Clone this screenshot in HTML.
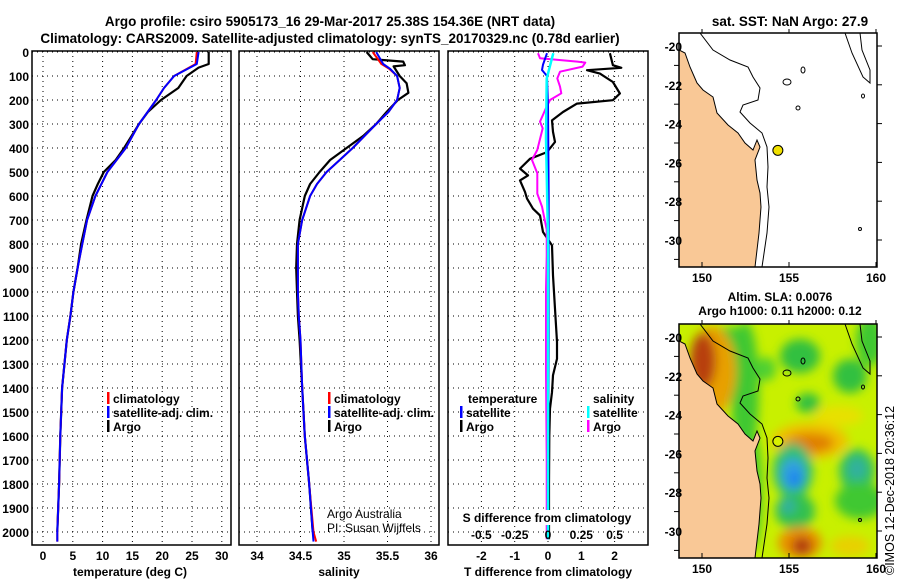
<!DOCTYPE html>
<html><head><meta charset="utf-8"><style>
html,body{margin:0;padding:0;background:#fff;}
svg{display:block;font-family:"Liberation Sans",Arial,sans-serif;}
.b{font-weight:bold;font-size:12px;}
.t{font-weight:bold;font-size:13.5px;}
</style></head><body>
<svg id="chart" width="900" height="580" viewBox="0 0 900 580" xmlns="http://www.w3.org/2000/svg">
<rect width="900" height="580" fill="#fff"/>
<text class="t" x="330" y="26" text-anchor="middle">Argo profile: csiro 5905173_16 29-Mar-2017 25.38S 154.36E (NRT data)</text>
<text class="t" x="330" y="43" text-anchor="middle">Climatology: CARS2009. Satellite-adjusted climatology: synTS_20170329.nc (0.78d earlier)</text>
<g id="plots"></g>
<text class="t" x="790" y="26" text-anchor="middle">sat. SST: NaN Argo: 27.9</text>
<text class="b" x="780" y="301" text-anchor="middle">Altim. SLA: 0.0076</text>
<text class="b" x="780" y="315" text-anchor="middle">Argo h1000: 0.11 h2000: 0.12</text>
<text x="894" y="575" transform="rotate(-90 894 575)" style="font-size:12.5px">©IMOS 12-Dec-2018 20:36:12</text>
</svg>
<script>
// ---- data ----
const depthTicks=[0,100,200,300,400,500,600,700,800,900,1000,1100,1200,1300,1400,1500,1600,1700,1800,1900,2000];
const tempTicks=[0,5,10,15,20,25,30];
const salTicks=[34,34.5,35,35.5,36];
const salTickLabels=["34","34.5","35","35.5","36"];
const dTTicks=[-2,-1,0,1,2];
const dSTicks=[-0.5,-0.25,0,0.25,0.5];
const dSTickLabels=["-0.5","-0.25","0","0.25","0.5"];

const argoTDepth=[0,50,65,100,150,200,250,300,400,450,500,550,600,700,800,900,1000,1100,1200,1400,1600,1800,2000];
const argoT=[27.8,27.8,26.1,24.1,22.7,19.8,17.6,16.1,13.6,12.2,10.2,9.2,8.3,7.3,6.4,5.8,5.1,4.6,4.0,3.2,2.9,2.7,2.4];
const climTDepth=[0,50,100,150,200,300,400,500,600,700,800,900,1000,1100,1200,1400,1600,1800,2000,2040];
const climT=[25.8,25.6,22.0,20.3,19.0,16.1,13.9,10.8,8.8,7.4,6.6,5.8,5.1,4.6,4.0,3.2,2.9,2.7,2.4,2.4];
const satT=[26.1,25.8,22.0,20.3,19.0,16.1,13.9,10.8,8.8,7.4,6.6,5.8,5.1,4.6,4.0,3.2,2.9,2.7,2.4,2.4];

const argoSDepth=[0,30,40,55,60,100,130,170,200,250,300,350,400,450,500,550,600,650,700,800,900,1000,1100,1200,1400,1600,1800,2000];
const argoS=[35.26,35.33,35.68,35.70,35.57,35.64,35.72,35.74,35.62,35.49,35.37,35.22,35.03,34.84,34.72,34.61,34.55,34.52,34.49,34.46,34.45,34.46,34.47,34.49,34.52,34.55,34.60,34.64];
const climSDepth=[0,50,70,100,150,200,250,300,400,450,500,550,600,700,800,900,1000,1100,1200,1400,1600,1800,2000,2040];
const climS=[35.33,35.43,35.52,35.61,35.64,35.61,35.51,35.37,35.10,34.95,34.80,34.69,34.61,34.52,34.47,34.47,34.47,34.48,34.50,34.52,34.55,34.60,34.65,34.68];
const satS=[35.37,35.45,35.53,35.61,35.64,35.61,35.51,35.37,35.10,34.95,34.80,34.69,34.61,34.52,34.47,34.47,34.47,34.48,34.50,34.52,34.55,34.60,34.64,34.65];

const dTArgoDepth=[5,55,66,76,90,125,173,201,215,250,285,333,375,417,445,486,514,535,583,611,653,681,750,806,931,1070,1208,1278,1347,1417,1486,1600,1800,2030];
const dTArgo=[1.86,1.95,2.2,1.17,1.56,1.95,2.16,1.95,0.87,0.45,0.12,0.15,0.21,-0.03,-0.54,-0.84,-0.6,-0.84,-0.69,-0.63,-0.45,-0.24,-0.15,0.12,0.15,0.21,0.27,0.27,0.15,0.12,0.06,0.04,0.03,0.03];
const dSArgoDepth=[5,26,40,44,61,82,110,144,172,200,240,290,318,408,450,505,590,644,740,850,990,1337,1700,2030];
const dSArgo=[-0.075,-0.06,0.22,0.28,0.26,0.09,0.07,0.09,0.1,0.015,-0.02,-0.06,-0.04,-0.08,-0.12,-0.08,-0.08,-0.045,-0.01,-0.01,-0.015,-0.015,-0.01,-0.01];
const dTSatDepth=[5,53,75,100,225,600,1200,2030];
const dTSat=[-0.03,-0.15,-0.18,-0.03,0,0.02,0.02,0.0];
const dSSatDepth=[5,111,360,778,1200,2030];
const dSSat=[0.04,-0.01,-0.015,0,0,0];

const lonTicks=[150,155,160];
const latTicks=[-20,-22,-24,-26,-28,-30];
const argoLon=154.36, argoLat=-25.38;

// ---- scales ----
const NS="http://www.w3.org/2000/svg";
const yD=d=>52+0.24*d;
const xT=t=>43+5.96*t;
const xS=s=>257+87*(s-34);
const xDT=v=>548+33.3*v;
const xDS=v=>548+133.2*v;
const mapX=lon=>702+17.4*(lon-150);
const mapY=lat=>46+19.4*(-20-lat);
const root=document.getElementById('plots');
function el(tag,attrs,parent,txt){const e=document.createElementNS(NS,tag);for(const k in attrs)e.setAttribute(k,attrs[k]);if(txt!==undefined)e.textContent=txt;(parent||root).appendChild(e);return e;}
function line(xs,ds,xf,color,w,name){
  const p=el('polyline',{points:xs.map((v,i)=>xf(v).toFixed(1)+','+yD(ds[i]).toFixed(1)).join(' '),fill:'none',stroke:color,'stroke-width':w,'stroke-linejoin':'round'});
  
  
}
const panels=[{x0:32,x1:231,name:'temperature-panel'},{x0:239,x1:439,name:'salinity-panel'},{x0:448,x1:648,name:'difference-panel'}];
const yTop=52-1, yBot=545;
panels.forEach((p,pi)=>{
  const g=el('g',{});
  
  
  depthTicks.forEach(d=>{
    const l=el('line',{x1:p.x0,x2:p.x1,y1:yD(d),y2:yD(d),stroke:'#000','stroke-width':1,'stroke-dasharray':'1,4'},g);
    
    
  });
  const xs=pi==0?tempTicks.map(xT):pi==1?salTicks.map(xS):dTTicks.map(xDT);
  xs.forEach(x=>{
    const l=el('line',{x1:x,x2:x,y1:yTop,y2:yBot,stroke:'#000','stroke-width':1,'stroke-dasharray':'1,4'},g);
    
    
  });
});
depthTicks.forEach(d=>{
  const t=el('text',{x:29,y:yD(d)+5,'text-anchor':'end',class:'b'},root,String(d));
  
  
});
tempTicks.forEach(v=>{const t=el('text',{x:xT(v),y:560,'text-anchor':'middle',class:'b'},root,String(v));
  
  });
salTicks.forEach((v,i)=>{const t=el('text',{x:xS(v),y:560,'text-anchor':'middle',class:'b'},root,salTickLabels[i]);
  
  });
dTTicks.forEach(v=>{const t=el('text',{x:xDT(v),y:560,'text-anchor':'middle',class:'b'},root,String(v));
  
  });
line(argoT,argoTDepth,xT,'#000',2.2,'argo-temperature-line');
line(climT,climTDepth,xT,'#f00',2,'climatology-temperature-line');
line(satT,climTDepth,xT,'#00f',2,'satellite-temperature-line');
line(argoS,argoSDepth,xS,'#000',2.2,'argo-salinity-line');
line(climS,climSDepth,xS,'#f00',2,'climatology-salinity-line');
line(satS,climSDepth,xS,'#00f',2,'satellite-salinity-line');
line(dTArgo,dTArgoDepth,xDT,'#000',2.2,'argo-t-diff-line');
line(dSArgo,dSArgoDepth,xDS,'#f0f',2,'argo-s-diff-line');
line(dTSat,dTSatDepth,xDT,'#00f',2,'satellite-t-diff-line');
line(dSSat,dSSatDepth,xDS,'#0ff',2.5,'satellite-s-diff-line');
panels.forEach(p=>{const r=el('rect',{x:p.x0,y:yTop,width:p.x1-p.x0,height:yBot-yTop,fill:'none',stroke:'#000','stroke-width':1.5});
  
  });
const sbg=el('rect',{x:456,y:510,width:180,height:15,fill:'#fff'});


const st=el('text',{x:547,y:522,'text-anchor':'middle',class:'b'},root,'S difference from climatology');


dSTicks.forEach((v,i)=>{const t=el('text',{x:xDS(v),y:539,'text-anchor':'middle',class:'b'},root,dSTickLabels[i]);
  
  });
[['temperature (deg C)',130,'temperature-axis-title'],['salinity',339,'salinity-axis-title'],['T difference from climatology',548,'t-diff-axis-title']].forEach(a=>{
  const t=el('text',{x:a[1],y:576,'text-anchor':'middle',class:'b'},root,a[0]);
  
  
});
function legend(x,y,color,label,name){
  const r=el('rect',{x:x,y:y-6,width:2.5,height:12,fill:color});
  
  
  const t=el('text',{x:x+6,y:y+5,class:'b'},root,label);
  
  
}
[[107,'temperature'],[328,'salinity']].forEach(a=>{
  legend(a[0],398,'#f00','climatology',a[1]+'-legend-climatology');
  legend(a[0],412,'#00f','satellite-adj. clim.',a[1]+'-legend-satellite');
  legend(a[0],426,'#000','Argo',a[1]+'-legend-argo');
});
const lt=el('text',{x:468,y:403,class:'b'},root,'temperature');


legend(460,412,'#00f','satellite','diff-legend-t-satellite');
legend(460,426,'#000','Argo','diff-legend-t-argo');
const ls=el('text',{x:593,y:403,class:'b'},root,'salinity');


legend(587,412,'#0ff','satellite','diff-legend-s-satellite');
legend(587,426,'#f0f','Argo','diff-legend-s-argo');
const a1=el('text',{x:327,y:518,style:'font-size:12px'},root,'Argo Australia');


const a2=el('text',{x:327,y:532,style:'font-size:12px'},root,'PI: Susan Wijffels');



// ---- maps ----
const coast="679,50 685,53 690,67 697,83 703,90 713,97 717,113 728,125 738,133 745,143 753,150 757,140 760,147 755,160 757,180 760,193 761,207 759,233 755,267";
const iso="700,33 713,50 730,60 748,67 753,77 760,88 758,100 743,105 740,112 750,123 762,133 767,147 768,167 767,187 769,207 767,233 762,267";
const tr="845,33 852,53 863,77 870,83 870,70 862,50 860,33";
function map(dy,field,name){
  const g=el('g',{transform:'translate(0,'+dy+')'});
  
  
  const cp=el('clipPath',{id:'c'+dy},g);
  el('rect',{x:679,y:33,width:198,height:234},cp);
  const inner=el('g',{'clip-path':'url(#c'+dy+')'},g);
  if(field){
    const defs=el('defs',{},inner);
    const f=el('filter',{id:'blur',x:'-50%',y:'-50%',width:'200%',height:'200%'},defs);
    el('feGaussianBlur',{stdDeviation:'5'},f);
    el('rect',{x:679,y:33,width:198,height:234,fill:'#c8f000'},inner);
    const fg=el('g',{filter:'url(#blur)'},inner);
    const blobs=[
      [745,100,14,70,'#40c830'],[752,200,10,60,'#40c830'],[730,50,25,14,'#40c830'],
      [712,80,24,45,'#e8a000'],[703,70,13,28,'#b84010'],
      [800,65,20,17,'#30c040'],[850,85,17,17,'#30c040'],[870,50,14,25,'#40c830'],[808,112,12,10,'#30c040'],[766,78,10,12,'#50d030'],
      [838,125,25,10,'#e8e000'],[810,150,38,18,'#f0c000'],[810,152,24,10,'#e08000'],
      [793,180,20,28,'#30c070'],[793,183,12,16,'#30a0e0'],[795,188,6,8,'#1880f0'],
      [857,180,18,22,'#30c060'],[857,178,9,11,'#30b0a0'],
      [795,220,20,18,'#30c050'],[788,215,8,8,'#30b0a0'],
      [860,210,25,18,'#40c830'],
      [800,252,22,16,'#e89000'],[802,255,10,9,'#b03808'],[850,255,20,10,'#e8d000']];
    blobs.forEach(b=>el('ellipse',{cx:b[0],cy:b[1],rx:b[2],ry:b[3],fill:b[4]},fg));
  } else {
    el('rect',{x:679,y:33,width:198,height:234,fill:'#fff'},inner);
  }
  el('polygon',{points:'679,33 '+coast+' 679,267',fill:'#f9c896'},inner);
  el('polyline',{points:coast,fill:'none',stroke:'#000','stroke-width':1},inner);
  el('polyline',{points:iso,fill:'none',stroke:'#000','stroke-width':1},inner);
  el('polyline',{points:tr,fill:'none',stroke:'#000','stroke-width':1},inner);
  [[787,82,4,3],[803,70,2,3],[798,108,2,2],[863,96,1.5,2],[860,229,1.5,1.5]].forEach(s=>el('ellipse',{cx:s[0],cy:s[1],rx:s[2],ry:s[3],fill:'none',stroke:'#000','stroke-width':1},inner));
  const c=el('circle',{cx:mapX(argoLon),cy:mapY(argoLat),r:5,fill:field?'#d8f000':'#f0e000',stroke:'#000','stroke-width':1},g);
  
  
  el('rect',{x:679,y:33,width:198,height:234,fill:'none',stroke:'#000','stroke-width':1.5},g);
  lonTicks.forEach(v=>{
    el('line',{x1:mapX(v),x2:mapX(v),y1:267,y2:262,stroke:'#000'},g);
    el('line',{x1:mapX(v),x2:mapX(v),y1:33,y2:29,stroke:'#000'},g);
    const t=el('text',{x:mapX(v),y:282,'text-anchor':'middle',class:'b'},g,String(v));
    
    
  });
  latTicks.forEach(v=>{
    el('line',{x1:877,x2:882,y1:mapY(v),y2:mapY(v),stroke:'#000'},g);
    const t=el('text',{x:682,y:mapY(v)+5,'text-anchor':'end',class:'b'},g,String(v));
    
    
  });
  for(let v=-21;v>=-31;v-=2){el('line',{x1:679,x2:674,y1:mapY(v),y2:mapY(v),stroke:'#000'},g);}
}
map(0,false,'sst-map');
map(291,true,'sla-map');
</script>
</body></html>
